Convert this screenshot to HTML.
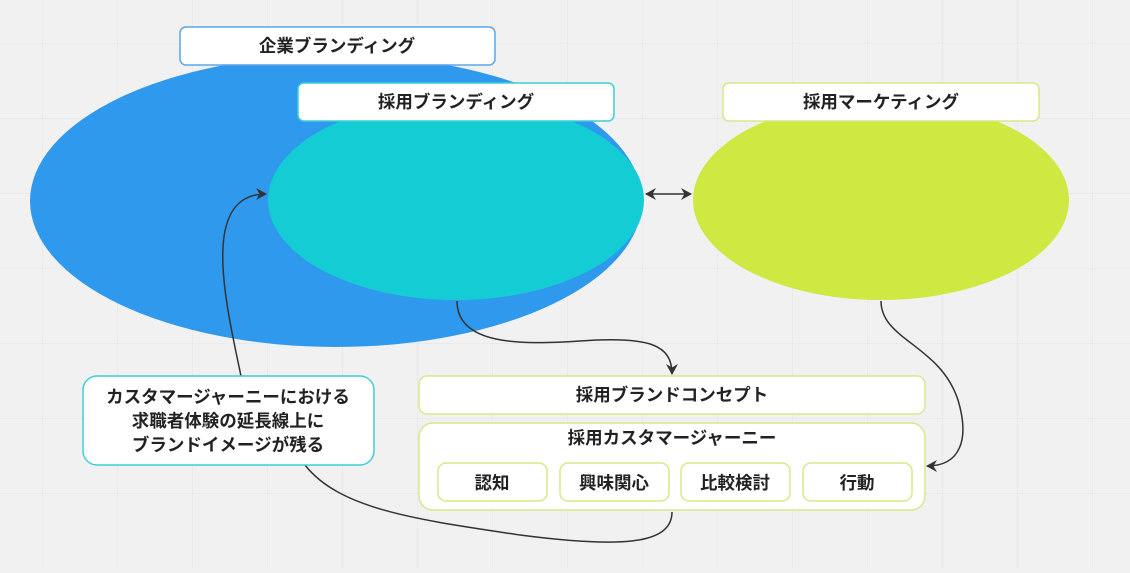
<!DOCTYPE html>
<html><head><meta charset="utf-8"><style>
html,body{margin:0;padding:0;}
body{width:1130px;height:568px;overflow:hidden;background:#f1f1f1;}
svg text{font-family:"Liberation Sans","Noto Sans CJK JP",sans-serif;font-weight:700;fill:#222;}
</style></head><body>
<svg width="1130" height="568" xmlns="http://www.w3.org/2000/svg">
<defs>
<pattern id="g" x="42" y="43" width="75" height="75" patternUnits="userSpaceOnUse">
<path d="M0 0H75M0 0V75" stroke="#e2e2e2" stroke-width="1" fill="none"/>
</pattern>
<marker id="a" markerWidth="12" markerHeight="12" refX="10" refY="6" orient="auto-start-reverse" markerUnits="userSpaceOnUse">
<path d="M0 0L11 6L0 12L3.5 6Z" fill="#333"/>
</marker>
</defs>
<rect width="1130" height="568" fill="url(#g)"/>
<ellipse cx="336" cy="201" rx="306" ry="146" fill="#2f99ee"/>
<ellipse cx="456" cy="200" rx="188" ry="100" fill="#14cdd4"/>
<ellipse cx="881" cy="200" rx="188" ry="100" fill="#cfe842"/>

<g fill="none" stroke="#333" stroke-width="1.5">
<path d="M646 194H691" marker-start="url(#a)" marker-end="url(#a)"/>
<path d="M457 301C457 345 520 345 580 341C650 336 672 345 672 374" marker-end="url(#a)"/>
<path d="M881 301C881 340 940 345 958 400C970 440 960 466 927 466" marker-end="url(#a)"/>
<path d="M241 376C225 300 200 194 266 194" marker-end="url(#a)"/>
<path d="M305 465C340 510 420 520 520 535C620 548 672 545 672 512"/>
</g>

<g stroke-width="1.5" fill="#fff">
<rect x="180" y="27" width="315" height="38" rx="6" stroke="#5aa5e8"/>
<rect x="298" y="83" width="316" height="38" rx="6" stroke="#3ccfd6"/>
<rect x="723" y="83" width="316" height="38" rx="6" stroke="#d6e88a"/>
<rect x="419" y="376" width="506" height="38" rx="8" stroke="#d6e88a"/>
<rect x="419" y="423" width="506" height="87" rx="14" stroke="#d6e88a"/>
<rect x="438" y="463" width="109" height="38" rx="8" stroke="#d6e88a"/>
<rect x="560" y="463" width="109" height="38" rx="8" stroke="#d6e88a"/>
<rect x="681" y="463" width="109" height="38" rx="8" stroke="#d6e88a"/>
<rect x="803" y="463" width="109" height="38" rx="8" stroke="#d6e88a"/>
<rect x="83" y="376" width="291" height="89" rx="14" stroke="#3ccfd6"/>
</g>

<g font-size="17.5" text-anchor="middle">
<text x="337" y="52">企業ブランディング</text>
<text x="456" y="108">採用ブランディング</text>
<text x="881" y="108">採用マーケティング</text>
<text x="672" y="401">採用ブランドコンセプト</text>
<text x="672" y="444">採用カスタマージャーニー</text>
<text x="492" y="489">認知</text>
<text x="614" y="489">興味関心</text>
<text x="735" y="489">比較検討</text>
<text x="857" y="489">行動</text>
<text x="228" y="403">カスタマージャーニーにおける</text>
<text x="228" y="427">求職者体験の延長線上に</text>
<text x="228" y="451">ブランドイメージが残る</text>
</g>
</svg>
</body></html>
